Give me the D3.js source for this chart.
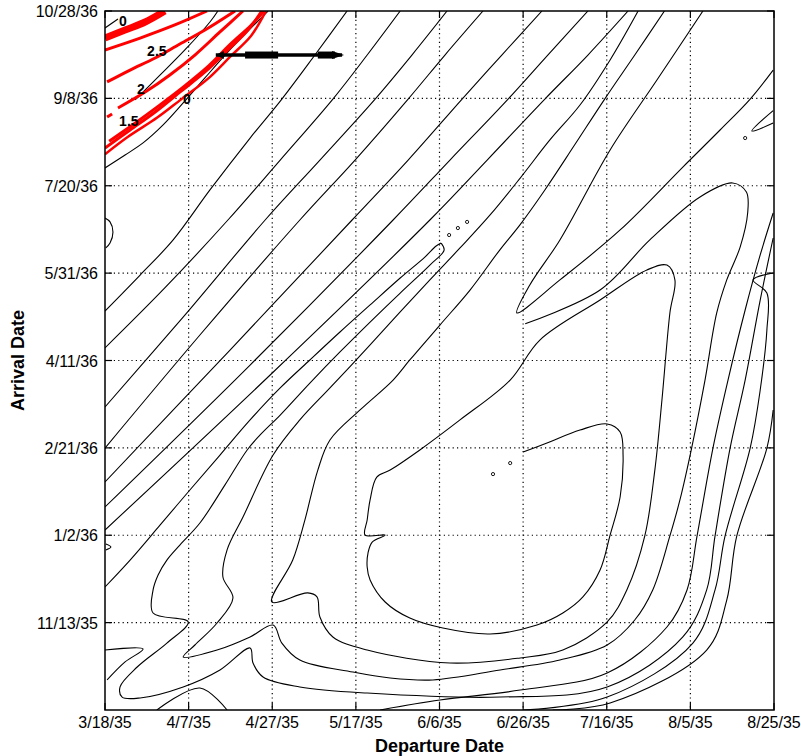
<!DOCTYPE html>
<html><head><meta charset="utf-8">
<script src="https://cdn.jsdelivr.net/npm/d3@7"></script>
<style>body{margin:0;background:#fff}svg{display:block}</style>
</head><body>
<svg id="chart" width="801" height="756"></svg>
<script>
// ---- axes data (days after 3/18/35 for departure, after 9/24/35 for arrival)
const xTickValues = [0,20,40,60,80,100,120,140,160];
const xTickLabels = ["3/18/35","4/7/35","4/27/35","5/17/35","6/6/35","6/26/35","7/16/35","8/5/35","8/25/35"];
const yTickValues = [50,100,150,200,250,300,350,400];
const yTickLabels = ["11/13/35","1/2/36","2/21/36","4/11/36","5/31/36","7/20/36","9/8/36","10/28/36"];

// ---- black contour lines [departure day, arrival day]
const lineD1 = [[0,310.2],[4.8,317.6],[9.1,324.5],[13.9,334.8],[18.7,347.4],[23.9,361.7],[29.2,376],[34,388],[39,400]];
const lineD2 = [[0,228.3],[8.4,248.9],[16.3,269],[25.1,297.6],[34.7,327.3],[42.3,349.6],[50.2,374.8],[57.9,400]];
const lineD3 = [[0,207.2],[14.3,241.5],[29.4,280.4],[41.9,314.7],[54.5,349.6],[62.7,374.8],[70.6,400]];
const lineD4 = [[0,173.4],[19.1,226],[38.3,280.4],[51.4,314.7],[64.6,349.6],[73.4,374.8],[81.8,400]];
const lineD5 = [[0,149.9],[22.7,214.6],[46.6,280.4],[59.8,314.7],[72.5,349.6],[81.3,374.8],[90.4,400]];
const lineD6 = [[0,130.5],[29.9,206],[59.1,280.4],[72.5,314.7],[85.4,349.6],[94.9,374.8],[104.5,400]];
const lineD7 = [[0,116.2],[34.7,197.4],[68.9,280.4],[82.5,314.7],[96.4,349.6],[105.9,374.8],[115.5,400]];
const lineD8 = [[0,103],[39.5,191.7],[77.7,280.4],[91.4,314.7],[105.2,349.6],[115.5,374.8],[125.1,400]];
// tongue: upper arm from left edge to the tip
const lineTongueUpper = [[0,70.4],[6,85.8],[13.2,105.9],[20.3,125.9],[27.5,145.9],[34.7,166],[41.9,184.3],[49,200.3],[56.2,216.3],[63.4,231.8],[70.6,247.2],[76.5,259.2],[79.2,265.5],[80.4,267.2]];
// tongue lower arm, outer finger, bottom, right side
const lineTongueLower = [[80.4,267.2],[81.1,263.2],[77.7,254.6],[70.6,238.6],[63.4,222],[56.2,204.9],[49,187.1],[41.9,168.8],[37.1,157.4],[34,148.8],[28.7,128.8],[22.7,107],[17.9,94.4],[14.8,85.8],[12.7,77.3],[11.5,68.7],
  [11.5,55.5],[19.9,50.4],[14.8,38.3],[7.7,24.6],[3.6,13.2],[4.1,7.4],[8.4,6.9],[18.7,13.2],[27.5,22.9],[34.7,35.5],[35.4,26.9],[37.8,18.9],[46.6,13.2],[62.7,9.7],[94.5,7.4],[120.1,13.2],[138.2,41.8],[143.9,68.7],[145.9,99.6],[149.5,149.9],[153.1,188.8],[156.7,234.6],[159.8,270.1]];
// loop at upper right, bottom, second finger, arm up to top edge
const lineF2 = [[100.5,221],[118.4,240.3],[130.3,269],[142.3,293.6],[150.1,301.6],[153.4,296.4],[153.7,284.4],[151.9,264.9],[148.7,246.1],[146.3,227.2],[143.5,188.8],[140.3,149.9],[137.5,120.2],[135.1,99.6],[131,68.7],[126.7,51.5],[120.1,37.2],[108.8,28.6],[94.5,22.9],[78.4,17.2],[68.2,18.3],[59.3,21.7],[46.6,28.6],[42.3,38.3],[40.2,48.6],[34.7,41.8],[26.8,34.3],[18.7,30.3],[21.5,37.2],[26.8,49.8],[30.6,64.1],[28.2,76.1],[29.2,91.6],[33,110.4],[40.2,145.9],
  [46.6,166],[53.8,184.3],[63.4,208.9],[70.6,227.8],[77.7,246.1],[84.9,264.4],[92.1,283.3],[99.3,304.4],[106.4,326.2],[113.6,346.2],[120.8,372],[127.5,400]];
// spiral contour: from top edge down to a V, around the bottom, up to a loop, back into the inner notched loop
const lineSpiral = [[133.8,400],[126.7,374.8],[119.5,349.6],[112.3,323.3],[105.2,297.6],[99.2,277.5],[94.4,263.2],[87.3,240.3],[80.1,220.3],[72.9,200.3],[68.9,188.8],[61,171.7],[53.8,154.5],[50.9,137.3],[47.8,108.7],[44.9,85.8],[39.9,61.8],
  [48.5,67],[50.7,64.7],[51.4,53.2],[54.5,41.8],[62.7,34.3],[82.5,26.9],[99.3,29.8],[109.5,34.3],[120.1,50.4],[124.8,68.7],[129.1,99.6],[131.5,137.3],[133.2,177.4],[135.1,227.2],[136.3,246.1],[134.4,254.6],[129.6,251.8],[118.4,234.6],[104,211.7],[96.9,188.8],[84.9,166],[75.3,148.8],[68.2,137.3],[65,133.3],
  [63.4,120.2],[62.7,108.7],[62.2,100.1],[67,100.1],[63.9,96.1],[62.9,89.8],[62.7,81.8],[63.4,74.4],[67,61.8],[72.9,52.6],[80.8,46.9],[92.1,43.5],[103.3,48.6],[109.5,55.5],[114.3,64.7],[118.4,80.1],[120.8,100.1],[123.2,121.9],[123.9,145.9],[123.2,159.1],[120.1,163.7],[113.6,160.2],[105.7,152.8],[100,147.6]];
const lineC2a = [[143,400],[132,360.5],[120.8,320.5],[108.8,269],[101.6,243.2],[98.5,227.2],[108.8,246.1],[123.2,274.7],[138.2,310.7],[147.1,331.9],[154.3,349.6],[159.8,366.2]];
const lineC3 = [[65.8,0],[80.1,5.7],[99.3,11.4],[120.1,21.2],[134.4,47.5],[139.2,68.7],[141.6,99.6],[145.4,149.9],[149,188.8],[153.1,228.9],[156.7,260.4],[159.8,284.4]];
const lineC5 = [[100,0],[120.1,7.4],[140.6,38.3],[145.9,68.7],[148.3,99.6],[154.3,149.9],[156.7,183.1],[158.3,217.5],[158.3,238.6],[155,246.1],[159.8,250.1]];
const lineC6 = [[107.1,0],[120.8,4],[143.9,34.3],[148.7,62.9],[151.1,99.6],[158.3,149.9],[159.8,171.7]];
const lineArcLeft = [[0,281.5],[1.2,279.3],[1.9,273.6],[1.2,267.2],[0.2,264.4]];
const lineStub = [[0,34.3],[9.1,34.9],[4.8,27.5],[0.5,17.2]];
const lineTri = [[12.4,0],[22.7,12.6],[29.2,0]];
const lineRightV = [[159.8,343],[154.7,331.3],[159.8,335.9]];
const lineLeftV = [[0.2,95],[1.4,93.3],[0.2,91.6]];
const lineTopLeft0 = [[0,390.3],[3.1,395.4]];
const lineThin25 = [[7.2,349.1],[13.2,363.4],[19.1,377.7],[25.1,393.7],[27,400]];
const dotPoints = [[96.9,141.3],[92.8,135],[82.3,271.8],[84.4,275.8],[86.6,279.3],[153.1,327.3]];

// ---- red contour lines
const redThick = [[0,384.5],[4.8,389.1],[9.6,393.7],[14.3,400]];
const red2 = [[0,377.7],[8.4,384.5],[16.7,392],[24.4,400]];
const red3 = [[0.5,359.4],[6,366.2],[12,373.1],[17.9,381.1],[23.9,389.1],[31.1,400]];
const red4a = [[0.5,339.3],[1.7,341.1]];
const red4 = [[3.1,344.5],[9.6,353.6],[15.5,363.4],[21.5,374.8],[27.5,388],[33,400]];
const red5 = [[0,321.6],[6,331.9],[12,342.2],[17.9,353.6],[23.9,365.1],[29.4,377.7],[34.2,389.1],[37.5,400]];
const red5b = [[1,325.5],[7,335.5],[13,346],[19,357],[24.8,368.6],[30,381],[35,392],[38,400]];
const red5c = [[0,318],[5.5,328],[12.5,339],[18.5,350],[24.5,361],[30,374],[35,386],[38.5,400]];

// ---- contour labels
const labelTexts = ["0","2.5","2","1.5","0"];
const labelPos = [[4.3,393.7],[12.4,376.5],[8.6,354.8],[5.7,336.5],[19.6,349.1]];
// ---- trajectory marker (arrival day, departure span, thick parts)
const markerDep = [26.5, 56.7];
const markerArr = 374.8;
const markerThick = [[33.5,41.4],[50.9,55]];

const svg = d3.select("#chart");
const L = 105, R = 774, T = 11, B = 710;
const x = d3.scaleLinear().domain([0,160]).range([L,R]);
const y = d3.scaleLinear().domain([0,400]).range([B,T]);
const FONT = "'Liberation Sans', Arial, Helvetica, sans-serif";

svg.append("defs").append("clipPath").attr("id","clip")
  .append("rect").attr("x",L).attr("y",T).attr("width",R-L).attr("height",B-T);

// grid
const grid = svg.append("g").attr("stroke","#000").attr("stroke-width",1.2).attr("stroke-dasharray","1.2,3.2");
xTickValues.slice(1,-1).forEach(v=>grid.append("line").attr("x1",x(v)).attr("x2",x(v)).attr("y1",T).attr("y2",B));
yTickValues.slice(0,-1).forEach(v=>grid.append("line").attr("y1",y(v)).attr("y2",y(v)).attr("x1",L).attr("x2",R));

const line = d3.line().x(d=>x(d[0])).y(d=>y(d[1])).curve(d3.curveCatmullRom.alpha(0.5));
const cg = svg.append("g").attr("clip-path","url(#clip)").attr("fill","none");

const blackLines = [lineD1,lineD2,lineD3,lineD4,lineD5,lineD6,lineD7,lineD8,lineTongueUpper,lineTongueLower,lineF2,lineSpiral,lineC2a,lineC3,lineC5,lineC6,lineArcLeft,lineStub,lineTri,lineRightV,lineLeftV,lineTopLeft0,lineThin25];
blackLines.forEach(l=>cg.append("path").attr("d",line(l)).attr("stroke","#000").attr("stroke-width",1.1));
cg.selectAll("circle.dot").data(dotPoints).join("circle").attr("cx",d=>x(d[0])).attr("cy",d=>y(d[1])).attr("r",1.6).attr("fill","none").attr("stroke","#000").attr("stroke-width",0.9);

const reds = [[redThick,7],[red2,3],[red3,3],[red4a,3],[red4,3],[red5,3],[red5b,3],[red5c,2.5]];
reds.forEach(([l,w])=>cg.append("path").attr("d",line(l)).attr("stroke","#f00").attr("stroke-width",w));

// marker
cg.append("line").attr("x1",x(markerDep[0])).attr("x2",x(markerDep[1])).attr("y1",y(markerArr)).attr("y2",y(markerArr)).attr("stroke","#000").attr("stroke-width",3.5);
markerThick.forEach(s=>cg.append("rect").attr("x",x(s[0])).attr("width",x(s[1])-x(s[0])).attr("y",y(markerArr)-3.5).attr("height",7).attr("fill","#000"));
cg.append("path").attr("d",`M${x(markerDep[1])+2},${y(markerArr)} l-12,-4 l0,8 z`).attr("fill","#000");
cg.append("path").attr("d",`M${x(markerDep[0])},${y(markerArr)} l8,-4 l0,8 z`).attr("fill","#000");

// contour labels
svg.append("g").selectAll("text").data(labelTexts).join("text")
  .attr("x",(d,i)=>x(labelPos[i][0])).attr("y",(d,i)=>y(labelPos[i][1]))
  .attr("text-anchor","middle").attr("dominant-baseline","middle")
  .attr("font-family",FONT).attr("font-weight","bold").attr("font-size",14).text(d=>d);

// frame
svg.append("rect").attr("x",L).attr("y",T).attr("width",R-L).attr("height",B-T).attr("fill","none").attr("stroke","#000").attr("stroke-width",1.5);
// ticks (inward, all sides)
const tk = svg.append("g").attr("stroke","#000").attr("stroke-width",1.2);
xTickValues.forEach(v=>{tk.append("line").attr("x1",x(v)).attr("x2",x(v)).attr("y1",B).attr("y2",B-7);tk.append("line").attr("x1",x(v)).attr("x2",x(v)).attr("y1",T).attr("y2",T+7);});
yTickValues.forEach(v=>{tk.append("line").attr("y1",y(v)).attr("y2",y(v)).attr("x1",L).attr("x2",L+7);tk.append("line").attr("y1",y(v)).attr("y2",y(v)).attr("x1",R).attr("x2",R-7);});

// tick labels
svg.append("g").selectAll("text").data(xTickValues).join("text")
  .attr("x",d=>x(d)).attr("y",B+18).attr("text-anchor","middle")
  .attr("font-family",FONT).attr("font-size",16).text((d,i)=>xTickLabels[i]);
svg.append("g").selectAll("text").data(yTickValues).join("text")
  .attr("x",L-7).attr("y",d=>y(d)+6).attr("text-anchor","end")
  .attr("font-family",FONT).attr("font-size",16).text((d,i)=>yTickLabels[i]);
// axis titles
svg.append("text").attr("x",(L+R)/2).attr("y",752).attr("text-anchor","middle")
  .attr("font-family",FONT).attr("font-weight","bold").attr("font-size",18).text("Departure Date");
svg.append("text").attr("transform",`translate(24,${(T+B)/2}) rotate(-90)`).attr("text-anchor","middle")
  .attr("font-family",FONT).attr("font-weight","bold").attr("font-size",18).text("Arrival Date");
</script>
</body></html>
